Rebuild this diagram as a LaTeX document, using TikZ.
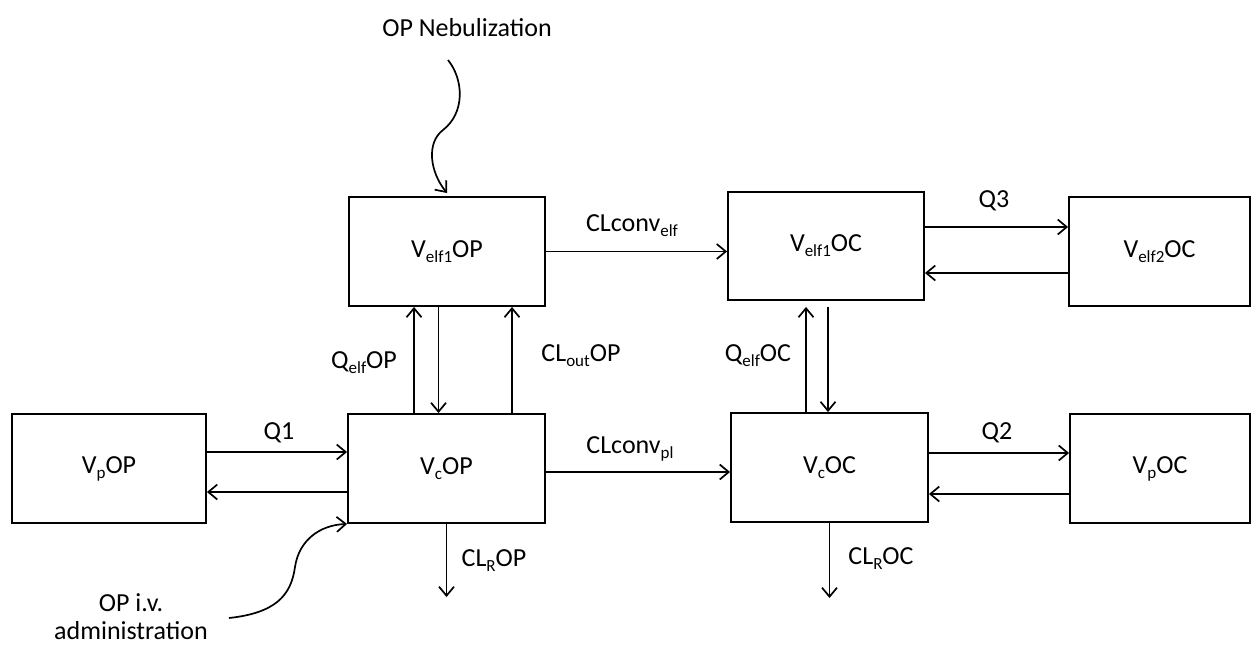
\documentclass[tikz,border=0pt]{standalone}
\usepackage{fontspec}
\setmainfont{Carlito}
\usetikzlibrary{arrows.meta,calc}
\newcommand\lo[1]{\raisebox{-5pt}{\fontsize{17}{17}\selectfont #1}}
\begin{document}
\begin{tikzpicture}[x=1pt,y=-1pt,
  font=\fontsize{26}{28}\selectfont,
  box/.style={draw,line width=1.9pt,minimum height=109pt,inner sep=0pt},
  arr/.style={line width=1.7pt,-{Straight Barb[length=9pt,width=15pt]}},
  lbl/.style={inner sep=0pt}]
\useasboundingbox (0,0) rectangle (1255,645);
% boxes
\node[box, minimum width=194pt] (vpop) at (109,468.5) {V\lo{p}OP};
\node[box, minimum width=197pt] (vcop) at (446.5,468.5) {V\lo{c}OP};
\node[box, minimum width=196pt] (velfop) at (447,251.5) {V\lo{elf1}OP};
\node[box, minimum width=196pt, minimum height=108pt] (velfoc) at (826,246) {V\lo{elf1}OC};
\node[box, minimum width=181pt] (velftwooc) at (1159.5,251.5) {V\lo{elf2}OC};
\node[box, minimum width=197pt] (vcoc) at (829.5,467.5) {V\lo{c}OC};
\node[box, minimum width=180pt] (vpoc) at (1160,468.5) {V\lo{p}OC};
% helper coordinates
\coordinate (q1s) at ([yshift=16.5pt]vpop.east);
\coordinate (q1b) at ([yshift=-23.5pt]vcop.west);
\coordinate (cpl) at ([yshift=-3.5pt]vcop.east);
\coordinate (q2s) at ([yshift=14.5pt]vcoc.east);
\coordinate (q2b) at ([yshift=-25.5pt]vpoc.west);
\coordinate (q3s) at ([yshift=19pt]velfoc.east);
\coordinate (q3b) at ([yshift=-21.5pt]velftwooc.west);
\coordinate (qa) at ([xshift=-32.5pt]vcop.north);
\coordinate (qd) at ([xshift=-8.5pt]velfop.south);
\coordinate (co) at ([xshift=65.5pt]vcop.north);
\coordinate (oa) at ([xshift=-23.5pt]vcoc.north);
\coordinate (od) at ([xshift=-1.5pt]vcoc.north);
\coordinate (crop) at (446.5,597);
\coordinate (croc) at (829.5,598);
\coordinate (nebstart) at (448,60);
\coordinate (nebend) at (447,193);
\coordinate (ivstart) at (229,618);
% horizontal connectors
\draw[arr] (q1s) -- (q1s -| vcop.west);
\draw[arr] (q1b) -- (q1b -| vpop.east);
\draw[arr] (velfop.east) -- (velfop.east -| velfoc.west);
\draw[arr] (cpl) -- (cpl -| vcoc.west);
\draw[arr] (q3s) -- (q3s -| velftwooc.west);
\draw[arr] (q3b) -- (q3b -| velfoc.east);
\draw[arr] (q2s) -- (q2s -| vpoc.west);
\draw[arr] (q2b) -- (q2b -| vcoc.east);
% vertical connectors
\draw[arr] (qa) -- (qa |- velfop.south);
\draw[arr] (qd) -- (qd |- vcop.north);
\draw[arr] (co) -- (co |- velfop.south);
\draw[arr,shorten >=6pt] (oa) -- (oa |- velfoc.south);
\draw[arr,shorten <=6pt] (od |- velfoc.south) -- (od);
\draw[arr] (vcop.south) -- (crop);
\draw[arr] (vcoc.south) -- (croc);
% curved inputs
\draw[arr] (nebstart) .. controls (464,80) and (465,113) .. (443,130)
  .. controls (426,143) and (430,172) .. (nebend);
\draw[arr] (ivstart) .. controls (275,613) and (291,596) .. (295,567)
  .. controls (299,540) and (320,525) .. (vcop.south west);
% labels
\node[lbl] (lneb) at (467,28) {OP Nebulization};
\node[lbl,align=center] (liv) at (131,617) {OP i.v.\\administration};
\node[lbl] (lq1) at (279,433) {Q1};
\node[lbl] (lclelf) at (632,226) {CLconv\lo{elf}};
\node[lbl] (lclpl) at (630,449) {CLconv\lo{pl}};
\node[lbl] (lqelfop) at (364,363) {Q\lo{elf}OP};
\node[lbl] (lcloutop) at (581,356) {CL\lo{out}OP};
\node[lbl] (lqelfoc) at (758,356) {Q\lo{elf}OC};
\node[lbl] (lclrop) at (494,561) {CL\lo{R}OP};
\node[lbl] (lclroc) at (881,559) {CL\lo{R}OC};
\node[lbl] (lq3) at (994,201) {Q3};
\node[lbl] (lq2) at (997,433) {Q2};
\end{tikzpicture}
\end{document}
